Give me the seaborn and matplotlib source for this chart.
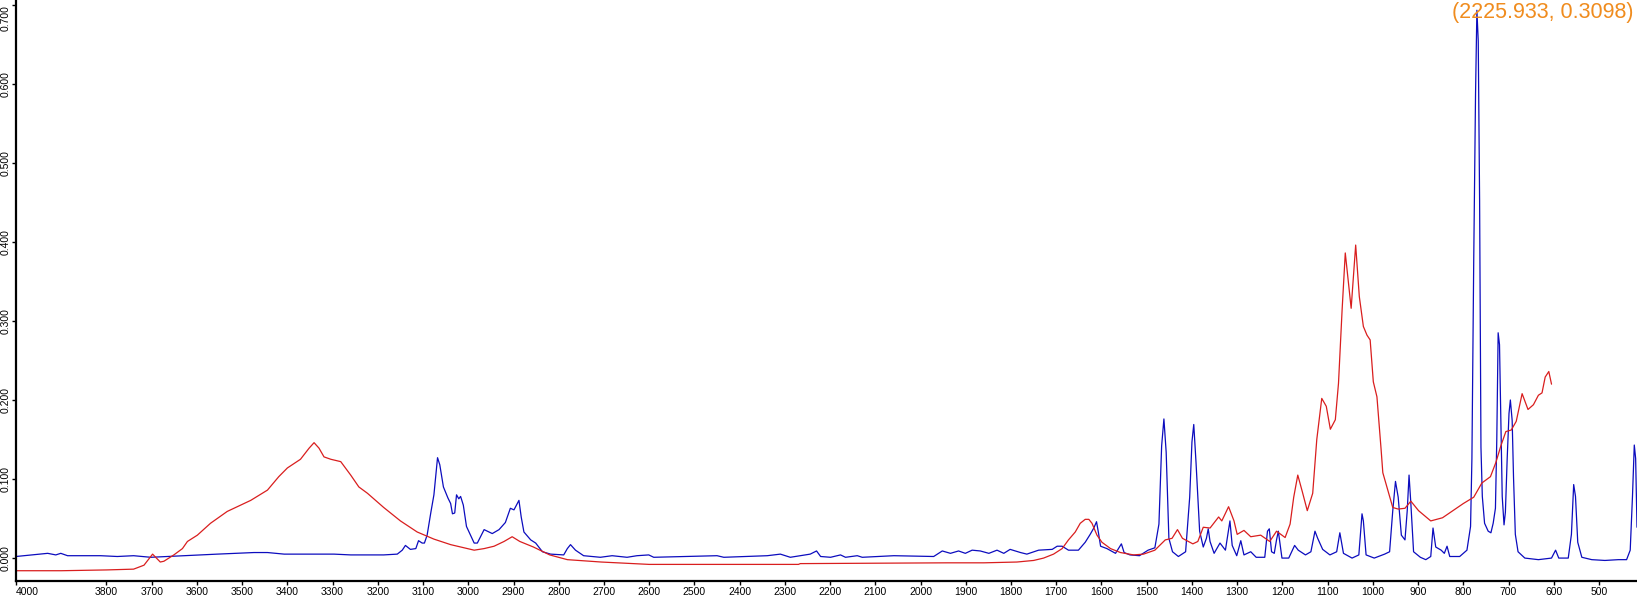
import matplotlib
matplotlib.use("Agg")
import matplotlib.pyplot as plt
import numpy as np
import pandas as pd
import seaborn as sns

# Blue spectrum (wavenumber, absorbance)
blue_wn = [4000, 3930, 3912, 3901, 3886, 3813, 3776, 3740, 3702, 3629, 3555, 3474, 3444, 3407,
           3297, 3260, 3187, 3157, 3146, 3139, 3128, 3116, 3110, 3102, 3097, 3091, 3083, 3076,
           3072, 3068, 3063, 3055, 3045, 3039, 3035, 3030, 3026, 3021, 3017, 3011, 3004, 2987,
           2980, 2965, 2947, 2932, 2918, 2907, 2899, 2888, 2883, 2877, 2862, 2851, 2836, 2818,
           2789, 2781, 2774, 2763, 2745, 2708, 2682, 2649, 2627, 2601, 2590, 2450, 2435, 2339,
           2310, 2288, 2266, 2244, 2230, 2221, 2199, 2177, 2166, 2140, 2129, 2059, 1971, 1952,
           1934, 1916, 1901, 1886, 1868, 1849, 1831, 1816, 1802, 1779, 1765, 1739, 1709, 1698,
           1687, 1673, 1651, 1636, 1625, 1617, 1611, 1607, 1602, 1588, 1569, 1556, 1550, 1537,
           1516, 1497, 1482, 1473, 1467, 1462, 1457, 1451, 1443, 1430, 1414, 1405, 1400, 1396,
           1391, 1383, 1375, 1368, 1364, 1360, 1351, 1338, 1326, 1316, 1311, 1301, 1292, 1285,
           1270, 1258, 1239, 1233, 1229, 1224, 1218, 1213, 1209, 1201, 1186, 1173, 1165, 1149,
           1137, 1128, 1122, 1111, 1095, 1080, 1073, 1065, 1046, 1031, 1024, 1021, 1015, 997,
           974, 963, 956, 950, 944, 937, 929, 924, 920, 916, 910, 895, 883, 872, 867, 861, 849,
           842, 836, 830, 808, 792, 784, 781, 777, 773, 770, 767, 764, 761, 758, 753, 745, 739,
           734, 729, 726, 723, 720, 717, 714, 710, 707, 703, 699, 696, 692, 689, 685, 679, 664,
           634, 605, 596, 589, 568, 561, 556, 552, 547, 538, 516, 487, 457, 439, 431, 426, 422,
           419, 416]
blue_abs = [0.002, 0.006, 0.004, 0.006, 0.003, 0.003, 0.002, 0.003, 0.001, 0.003, 0.005, 0.007,
            0.007, 0.005, 0.005, 0.004, 0.004, 0.005, 0.010, 0.016, 0.011, 0.012, 0.022, 0.019,
            0.019, 0.029, 0.057, 0.080, 0.103, 0.127, 0.118, 0.090, 0.076, 0.069, 0.056, 0.057,
            0.080, 0.075, 0.078, 0.067, 0.040, 0.019, 0.019, 0.036, 0.031, 0.036, 0.045, 0.063,
            0.061, 0.073, 0.052, 0.033, 0.023, 0.019, 0.008, 0.005, 0.004, 0.012, 0.017, 0.010,
            0.003, 0.001, 0.003, 0.001, 0.003, 0.004, 0.001, 0.003, 0.001, 0.003, 0.005, 0.001,
            0.003, 0.005, 0.009, 0.002, 0.001, 0.004, 0.001, 0.003, 0.001, 0.003, 0.002, 0.009,
            0.006, 0.009, 0.006, 0.010, 0.009, 0.006, 0.010, 0.006, 0.011, 0.007, 0.005, 0.010,
            0.011, 0.015, 0.015, 0.010, 0.010, 0.020, 0.030, 0.038, 0.046, 0.033, 0.015, 0.012,
            0.006, 0.018, 0.007, 0.004, 0.003, 0.010, 0.013, 0.043, 0.142, 0.176, 0.134, 0.025,
            0.008, 0.002, 0.008, 0.077, 0.147, 0.169, 0.121, 0.034, 0.014, 0.025, 0.037, 0.021,
            0.006, 0.019, 0.010, 0.047, 0.016, 0.003, 0.022, 0.004, 0.008, 0.001, 0.001, 0.034,
            0.037, 0.008, 0.006, 0.023, 0.034, 0.000, 0.000, 0.016, 0.010, 0.004, 0.008, 0.034,
            0.025, 0.011, 0.004, 0.008, 0.032, 0.006, 0.000, 0.004, 0.056, 0.047, 0.004, 0.000,
            0.005, 0.008, 0.060, 0.097, 0.077, 0.029, 0.023, 0.060, 0.105, 0.069, 0.008, 0.001,
            -0.002, 0.002, 0.038, 0.014, 0.010, 0.006, 0.015, 0.002, 0.002, 0.010, 0.040, 0.126,
            0.376, 0.587, 0.693, 0.654, 0.452, 0.140, 0.078, 0.044, 0.034, 0.032, 0.044, 0.063,
            0.150, 0.285, 0.270, 0.174, 0.078, 0.042, 0.058, 0.126, 0.183, 0.200, 0.174, 0.102,
            0.030, 0.008, 0.000, -0.002, 0.000, 0.010, 0.000, 0.000, 0.030, 0.093, 0.078, 0.020,
            0.001, -0.002, -0.003, -0.002, -0.002, 0.010, 0.078, 0.143, 0.126, 0.039]

# Red spectrum (wavenumber, absorbance)
red_wn = [4000, 3900, 3800, 3740, 3717, 3698, 3681, 3673, 3651, 3632, 3621, 3599, 3570, 3533,
          3481, 3444, 3419, 3400, 3371, 3352, 3341, 3330, 3319, 3304, 3282, 3260, 3242, 3223,
          3187, 3150, 3113, 3076, 3039, 2987, 2965, 2943, 2921, 2903, 2886, 2856, 2820, 2781,
          2706, 2600, 2270, 2266, 1940, 1860, 1787, 1750, 1728, 1706, 1687, 1673, 1658, 1647,
          1636, 1628, 1621, 1610, 1599, 1580, 1558, 1529, 1507, 1482, 1459, 1444, 1432, 1421,
          1398, 1387, 1375, 1360, 1341, 1334, 1319, 1307, 1300, 1285, 1270, 1248, 1228, 1213,
          1194, 1183, 1175, 1166, 1156, 1145, 1133, 1124, 1113, 1103, 1094, 1083, 1076, 1068,
          1061, 1054, 1048, 1043, 1038, 1030, 1021, 1013, 1006, 999, 991, 982, 978, 967, 956,
          944, 929, 916, 899, 872, 846, 823, 800, 777, 759, 740, 728, 717, 706, 694, 683, 670,
          657, 645, 634, 626, 619, 611, 605]
red_abs = [-0.016, -0.016, -0.015, -0.014, -0.009, 0.005, -0.005, -0.004, 0.004, 0.012, 0.021,
           0.029, 0.044, 0.059, 0.073, 0.086, 0.103, 0.114, 0.125, 0.139, 0.146, 0.139, 0.128,
           0.125, 0.122, 0.105, 0.090, 0.082, 0.064, 0.047, 0.033, 0.024, 0.017, 0.010, 0.012,
           0.015, 0.021, 0.027, 0.021, 0.014, 0.004, -0.002, -0.005, -0.008, -0.008, -0.007,
           -0.006, -0.006, -0.005, -0.003, 0.000, 0.005, 0.012, 0.023, 0.033, 0.044, 0.049,
           0.049, 0.044, 0.029, 0.020, 0.012, 0.007, 0.004, 0.005, 0.010, 0.023, 0.025, 0.036,
           0.025, 0.018, 0.021, 0.039, 0.038, 0.052, 0.047, 0.065, 0.047, 0.030, 0.035, 0.027,
           0.029, 0.021, 0.034, 0.026, 0.043, 0.077, 0.105, 0.084, 0.060, 0.082, 0.150, 0.202,
           0.192, 0.163, 0.175, 0.221, 0.314, 0.386, 0.348, 0.316, 0.356, 0.396, 0.331, 0.293,
           0.282, 0.276, 0.223, 0.204, 0.139, 0.108, 0.086, 0.064, 0.062, 0.063, 0.072, 0.060,
           0.047, 0.051, 0.060, 0.069, 0.077, 0.095, 0.103, 0.121, 0.142, 0.160, 0.162, 0.173,
           0.208, 0.188, 0.194, 0.206, 0.209, 0.229, 0.236, 0.220]

x_ticks = [4000] + list(range(3800, 400, -100))
y_ticks = [0.0, 0.1, 0.2, 0.3, 0.4, 0.5, 0.6, 0.7]
cursor_text = "(2225.933, 0.3098)"

sns.set_theme(style="white")
plt.rcParams['font.family'] = ['Liberation Sans', 'DejaVu Sans']

W, H = 1637, 595
fig = plt.figure(figsize=(W / 100, H / 100), dpi=100)
ax = fig.add_axes([16 / W, 14 / H, 1 - 16 / W, 1 - 14 / H])

blue_df = pd.DataFrame({"wn": blue_wn, "abs": blue_abs})
red_df = pd.DataFrame({"wn": red_wn, "abs": red_abs})

# two spectra, thin lines
sns.lineplot(data=blue_df, x="wn", y="abs", ax=ax, color="#0C0CBE",
             linewidth=0.9, estimator=None, sort=False)
sns.lineplot(data=red_df, x="wn", y="abs", ax=ax, color="#D91E1E",
             linewidth=0.9, estimator=None, sort=False)

ax.set_xlim(4000, 416)
ax.set_ylim(-0.029, 0.706)
ax.set_xlabel("")
ax.set_ylabel("")

# axes: only left and bottom, thick black
for side in ["top", "right"]:
    ax.spines[side].set_visible(False)
for side in ["left", "bottom"]:
    ax.spines[side].set_color("black")
    ax.spines[side].set_linewidth(1.6)

ax.set_xticks(x_ticks)
ax.set_xticklabels([str(t) for t in x_ticks])
ax.set_yticks(y_ticks)
ax.set_yticklabels([f"{t:.3f}" for t in y_ticks], rotation=90, va="center")
ax.tick_params(axis="both", which="major", labelsize=7.5, colors="black",
               direction="out", length=3, width=1, pad=1.2, bottom=True, left=True)

ax.get_xticklabels()[0].set_ha("left")
ax.get_yticklabels()[-1].set_va("top")

# cursor readout in the corner
ax.text(0.998, 0.997, cursor_text, transform=ax.transAxes, ha="right", va="top",
        fontsize=15.5, color="#F08C1E")

fig.savefig("out.png", dpi=100)
